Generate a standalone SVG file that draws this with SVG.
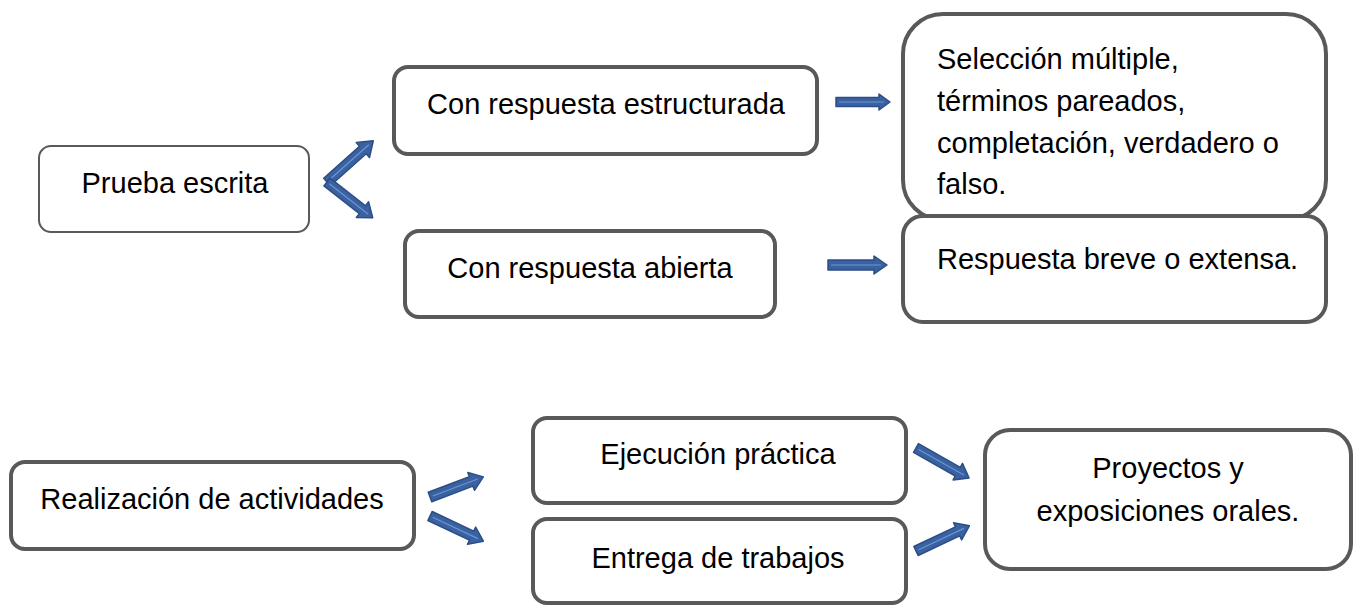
<svg xmlns="http://www.w3.org/2000/svg" width="1354" height="605" viewBox="0 0 1354 605">
<style>
.box{fill:#fff;stroke:#595959;stroke-width:4}
.thin{fill:#fff;stroke:#595959;stroke-width:2}
.t{font-family:"Liberation Sans",Arial,sans-serif;font-size:29px;fill:#000}
.arr{fill:#3A62A0;stroke:#2C4E86;stroke-width:1.5;stroke-linejoin:round}
.in{stroke:#6A95D6;stroke-width:1.2;fill:none}
</style>
<rect width="1354" height="605" fill="#fff"/>
<g id="connectors">
<g transform="translate(327,182) rotate(-41.7)"><path class="arr" d="M0,-5 L48,-5 L48,-10 L62,0 L48,10 L48,5 L0,5 Z"/><path class="in" d="M3,0 L56,0"/></g>
<g transform="translate(327,182) rotate(38)"><path class="arr" d="M0,-5 L45,-5 L45,-10 L58,0 L45,10 L45,5 L0,5 Z"/><path class="in" d="M3,0 L52,0"/></g>
<g transform="translate(836,102)"><path class="arr" d="M0,-4.5 L43,-4.5 L43,-8 L54,0 L43,8 L43,4.5 L0,4.5 Z"/><path class="in" d="M3,0 L48,0"/></g>
<g transform="translate(828,265)"><path class="arr" d="M0,-5 L46,-5 L46,-9 L59,0 L46,9 L46,5 L0,5 Z"/><path class="in" d="M3,0 L53,0"/></g>
<g transform="translate(430,497) rotate(-20.7)"><path class="arr" d="M0,-5 L44,-5 L44,-9.5 L57,0 L44,9.5 L44,5 L0,5 Z"/><path class="in" d="M3,0 L51,0"/></g>
<g transform="translate(430,516) rotate(25.3)"><path class="arr" d="M0,-5 L46,-5 L46,-9.5 L59,0 L46,9.5 L46,5 L0,5 Z"/><path class="in" d="M3,0 L53,0"/></g>
<g transform="translate(916,448) rotate(29.5)"><path class="arr" d="M0,-5 L48,-5 L48,-9.5 L61,0 L48,9.5 L48,5 L0,5 Z"/><path class="in" d="M3,0 L55,0"/></g>
<g transform="translate(916,551) rotate(-25.3)"><path class="arr" d="M0,-5 L46,-5 L46,-9.5 L59,0 L46,9.5 L46,5 L0,5 Z"/><path class="in" d="M3,0 L53,0"/></g>
</g>
<g id="prueba"><rect class="thin" x="39" y="146" width="270" height="86" rx="12"/><text class="t" x="175" y="193" text-anchor="middle">Prueba escrita</text></g>
<g id="estructurada"><rect class="box" x="394" y="67" width="423" height="87" rx="14"/><text class="t" x="606" y="114" text-anchor="middle">Con respuesta estructurada</text></g>
<g id="abierta"><rect class="box" x="405" y="231" width="370" height="86" rx="14"/><text class="t" x="590" y="278" text-anchor="middle">Con respuesta abierta</text></g>
<g id="seleccion"><rect class="box" x="903" y="14" width="423" height="206" rx="40"/>
<text class="t" x="937" y="69">Selección múltiple,</text>
<text class="t" x="937" y="111">términos pareados,</text>
<text class="t" x="937" y="153">completación, verdadero o</text>
<text class="t" x="937" y="194">falso.</text></g>
<g id="breve"><rect class="box" x="903" y="216" width="423" height="106" rx="20"/><text class="t" x="937" y="269">Respuesta breve o extensa.</text></g>
<g id="realizacion"><rect class="box" x="11" y="462" width="403" height="87" rx="14"/><text class="t" x="212" y="509" text-anchor="middle">Realización de actividades</text></g>
<g id="ejecucion"><rect class="box" x="533" y="418" width="373" height="85" rx="14"/><text class="t" x="718" y="464" text-anchor="middle">Ejecución práctica</text></g>
<g id="entrega"><rect class="box" x="533" y="519" width="373" height="84" rx="14"/><text class="t" x="718" y="568" text-anchor="middle">Entrega de trabajos</text></g>
<g id="proyectos"><rect class="box" x="985" y="430" width="366" height="139" rx="25"/>
<text class="t" x="1168" y="478" text-anchor="middle">Proyectos y</text>
<text class="t" x="1168" y="521" text-anchor="middle">exposiciones orales.</text></g>
</svg>
